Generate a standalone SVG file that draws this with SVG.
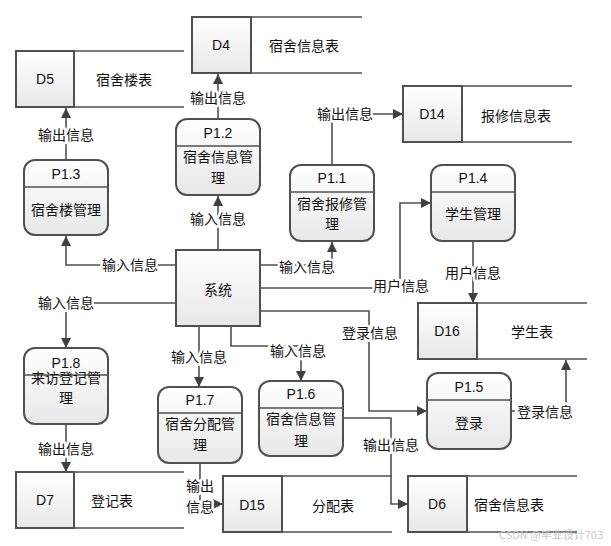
<svg xmlns="http://www.w3.org/2000/svg" width="611" height="546" viewBox="0 0 611 546">
<defs>
<linearGradient id="g" x1="0" y1="0" x2="0" y2="1">
<stop offset="0" stop-color="#ffffff"/>
<stop offset="1" stop-color="#e8e8e8"/>
</linearGradient>
<marker id="arr" viewBox="0 0 10 10" refX="10" refY="5" markerWidth="10" markerHeight="10" markerUnits="userSpaceOnUse" orient="auto">
<path d="M0,0 L10,5 L0,10 z" fill="#404040"/>
</marker>
</defs>
<style>
.box{fill:url(#g);stroke:#505050;stroke-width:2}
.ln{fill:none;stroke:#505050;stroke-width:1.6}
.sl{fill:none;stroke:#505050;stroke-width:1.6}
.t{font-family:"Noto Sans CJK SC","Liberation Sans",sans-serif;font-size:14px;fill:#111;text-anchor:middle;dominant-baseline:central}
.id{font-family:"Liberation Sans","Noto Sans",sans-serif;font-size:14px;fill:#111;text-anchor:middle;dominant-baseline:central}
.lb{font-family:"Noto Sans CJK SC","Liberation Sans",sans-serif;font-size:14px;fill:#111;text-anchor:middle;dominant-baseline:central;stroke:#fff;stroke-width:5;paint-order:stroke;stroke-linejoin:round}
.wm{font-family:"Noto Sans CJK SC","Liberation Sans",sans-serif;font-size:11px;fill:#c8c8c8;text-anchor:end;dominant-baseline:central}
</style>
<rect width="611" height="546" fill="#fff"/>

<g id="connectors">
<path class="ln" d="M176,265 H66 V236" marker-end="url(#arr)"/>
<path class="ln" d="M66,160 V108" marker-end="url(#arr)"/>
<path class="ln" d="M218,250 V196" marker-end="url(#arr)"/>
<path class="ln" d="M218,119 V74" marker-end="url(#arr)"/>
<path class="ln" d="M260,265 H332 V242" marker-end="url(#arr)"/>
<path class="ln" d="M332,165 V114 H403" marker-end="url(#arr)"/>
<path class="ln" d="M260,288 H400 V203 H431" marker-end="url(#arr)"/>
<path class="ln" d="M473,241 V303" marker-end="url(#arr)"/>
<path class="ln" d="M260,311 H369 V411 H427" marker-end="url(#arr)"/>
<path class="ln" d="M511,411 H566 V360" marker-end="url(#arr)"/>
<path class="ln" d="M231,326 V346 H301 V381" marker-end="url(#arr)"/>
<path class="ln" d="M199,326 V387" marker-end="url(#arr)"/>
<path class="ln" d="M343,418 H391 V504 H408" marker-end="url(#arr)"/>
<path class="ln" d="M200,463 V504 H223" marker-end="url(#arr)"/>
<path class="ln" d="M176,303 H66 V348" marker-end="url(#arr)"/>
<path class="ln" d="M66,424 V472" marker-end="url(#arr)"/>

<text class="lb" x="130" y="264">输入信息</text>
<text class="lb" x="66" y="134">输出信息</text>
<text class="lb" x="218" y="218">输入信息</text>
<text class="lb" x="218" y="97">输出信息</text>
<text class="lb" x="307" y="266">输入信息</text>
<text class="lb" x="345" y="113">输出信息</text>
<text class="lb" x="401" y="285">用户信息</text>
<text class="lb" x="473" y="272">用户信息</text>
<text class="lb" x="370" y="332">登录信息</text>
<text class="lb" x="545" y="411">登录信息</text>
<text class="lb" x="298" y="350">输入信息</text>
<text class="lb" x="199" y="356">输入信息</text>
<text class="lb" x="391" y="444">输出信息</text>
<text class="lb" x="200" y="485">输出</text>
<text class="lb" x="200" y="506">信息</text>
<text class="lb" x="66" y="302">输入信息</text>
<text class="lb" x="66" y="448">输出信息</text>
</g>

<g id="sys">
<rect class="box" x="176" y="250" width="84" height="76"/>
<text class="t" x="218" y="289">系统</text>
</g>

<g id="D4">
<rect class="box" x="192" y="17" width="59" height="56"/>
<path class="sl" d="M251,17 H362 M251,73 H362"/>
<text class="id" x="221" y="45">D4</text>
<text class="t" x="304" y="45">宿舍信息表</text>
</g>
<g id="D5">
<rect class="box" x="16" y="51" width="58" height="56"/>
<path class="sl" d="M74,51 H184 M74,107 H184"/>
<text class="id" x="45" y="79">D5</text>
<text class="t" x="124" y="79">宿舍楼表</text>
</g>
<g id="D14">
<rect class="box" x="403" y="86" width="59" height="56"/>
<path class="sl" d="M462,86 H572 M462,142 H572"/>
<text class="id" x="432" y="114">D14</text>
<text class="t" x="516" y="115">报修信息表</text>
</g>
<g id="D16">
<rect class="box" x="418" y="303" width="59" height="56"/>
<path class="sl" d="M477,303 H587 M477,359 H587"/>
<text class="id" x="447" y="331">D16</text>
<text class="t" x="532" y="331">学生表</text>
</g>
<g id="D6">
<rect class="box" x="408" y="476" width="59" height="56"/>
<path class="sl" d="M467,476 H577 M467,532 H577"/>
<text class="id" x="437" y="504">D6</text>
<text class="t" x="509" y="504">宿舍信息表</text>
</g>
<g id="D15">
<rect class="box" x="223" y="476" width="59" height="56"/>
<path class="sl" d="M282,476 H392 M282,532 H392"/>
<text class="id" x="252" y="505">D15</text>
<text class="t" x="333" y="505">分配表</text>
</g>
<g id="D7">
<rect class="box" x="16" y="472" width="58" height="56"/>
<path class="sl" d="M74,472 H184 M74,528 H184"/>
<text class="id" x="45" y="500">D7</text>
<text class="t" x="112" y="500">登记表</text>
</g>

<g id="P1.3">
<rect class="box" x="24" y="160" width="84" height="75" rx="11"/>
<path class="sl" d="M24,187 H108"/>
<text class="id" x="66" y="174">P1.3</text>
<text class="t" x="66" y="209">宿舍楼管理</text>
</g>
<g id="P1.2">
<rect class="box" x="176" y="119" width="84" height="76" rx="11"/>
<path class="sl" d="M176,146 H260"/>
<text class="id" x="218" y="133">P1.2</text>
<text class="t" x="218" y="156">宿舍信息管</text>
<text class="t" x="218" y="177">理</text>
</g>
<g id="P1.1">
<rect class="box" x="290" y="165" width="84" height="76" rx="11"/>
<path class="sl" d="M290,192 H374"/>
<text class="id" x="332" y="178">P1.1</text>
<text class="t" x="332" y="203">宿舍报修管</text>
<text class="t" x="332" y="223">理</text>
</g>
<g id="P1.4">
<rect class="box" x="431" y="165" width="84" height="76" rx="11"/>
<path class="sl" d="M431,192 H515"/>
<text class="id" x="473" y="178">P1.4</text>
<text class="t" x="473" y="213">学生管理</text>
</g>
<g id="P1.5">
<rect class="box" x="427" y="373" width="84" height="76" rx="11"/>
<path class="sl" d="M427,400 H511"/>
<text class="id" x="469" y="387">P1.5</text>
<text class="t" x="469" y="422">登录</text>
</g>
<g id="P1.6">
<rect class="box" x="259" y="381" width="84" height="75" rx="11"/>
<path class="sl" d="M259,408 H343"/>
<text class="id" x="301" y="394">P1.6</text>
<text class="t" x="301" y="418">宿舍信息管</text>
<text class="t" x="301" y="440">理</text>
</g>
<g id="P1.7">
<rect class="box" x="158" y="387" width="84" height="76" rx="11"/>
<path class="sl" d="M158,413 H242"/>
<text class="id" x="200" y="400">P1.7</text>
<text class="t" x="200" y="423">宿舍分配管</text>
<text class="t" x="200" y="444">理</text>
</g>
<g id="P1.8">
<rect class="box" x="24" y="348" width="84" height="76" rx="11"/>
<path class="sl" d="M24,375 H108"/>
<text class="id" x="66" y="363">P1.8</text>
<text class="t" x="66" y="377">来访登记管</text>
<text class="t" x="66" y="397">理</text>
</g>

<text class="wm" x="603" y="534">CSDN @毕业设计703</text>
</svg>
